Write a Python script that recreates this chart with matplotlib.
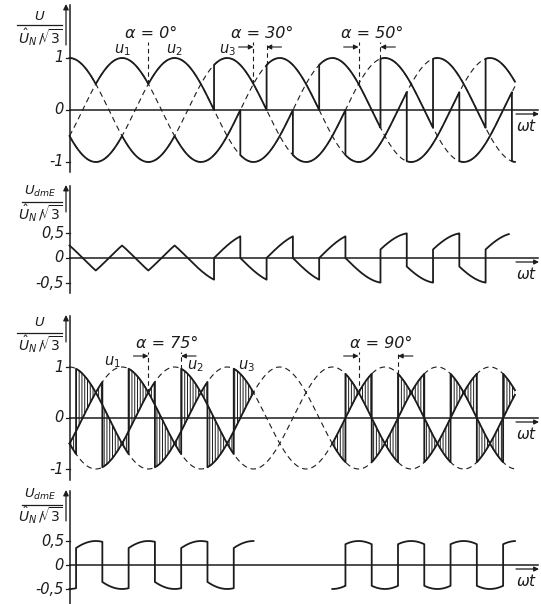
import numpy as np
import matplotlib
matplotlib.use("Agg")
import matplotlib.pyplot as plt

# supply phases: angle (deg) of the positive peak of u1, u2, u3
PHASE_NAMES = ["u_1", "u_2", "u_3"]
PHASE_PEAK = [120, 240, 0]

# upper pair of panels: natural commutation angles and delay angles alpha
P1_POS_COMM = [-60, 60, 180, 300, 420, 540, 660, 780, 900]
P1_POS_ALPHA = [0, 0, 0, 30, 30, 30, 50, 50, 50]
P1_NEG_COMM = [-120, 0, 120, 240, 360, 480, 600, 720, 840, 960]
P1_NEG_ALPHA = [0, 0, 0, 0, 30, 30, 30, 50, 50, 50]
P1_END = 1017
P2_END = 1003
P1_MARK_ALPHA = [0, 30, 50]
P1_MARK_COMM = [180, 420, 660]

# lower pair of panels
P3_POS_COMM = [-180, -60, 60, 180, 300, 420, 540, 660, 780, 900]
P3_POS_ALPHA = [75, 75, 75, 75, 75, 90, 90, 90, 90, 90]
P3_NEG_COMM = [-120, 0, 120, 240, 360, 480, 600, 720, 840, 960]
P3_NEG_ALPHA = [75, 75, 75, 75, 90, 90, 90, 90, 90, 90]
P3_ON = [(0, 420), (600, 1017)]
P3_END = 1017
P3_MARK_ALPHA = [75, 90]
P3_MARK_COMM = [180, 660]

W, H = 541, 604
X0, SX = 69.5, 0.438      # pixel of wt=0 and pixels per degree
K = "#1c1c1c"
LW = 1.3

plt.rcParams["hatch.color"] = K
plt.rcParams["hatch.linewidth"] = 0.7
plt.rcParams["mathtext.fontset"] = "dejavusans"

fig = plt.figure(figsize=(W / 100, H / 100), dpi=100)


def dx(px):
    return (px - X0) / SX


def make_ax(top, bot, y0, s):
    ax = fig.add_axes([0, 1 - bot / H, 1, (bot - top) / H])
    ax.set_xlim(dx(0), dx(W))
    ax.set_ylim((y0 - bot) / s, (y0 - top) / s)
    ax.axis("off")
    ax.dy = lambda py: (y0 - py) / s
    ax.y0 = y0
    return ax


def group(th, mid, comm, alpha, lower):
    fire = np.add(comm, alpha)
    k = np.searchsorted(fire, mid) - 1
    v = np.cos(np.radians(th - comm[k] - 60))
    return -v if lower else v


def traces(a0, a1, pc, pa, nc, na):
    fires = [f for f in list(np.add(pc, pa)) + list(np.add(nc, na)) if a0 < f < a1]
    edges = [a0] + sorted(set(fires)) + [a1]
    th, up, dn = [], [], []
    for a, b in zip(edges[:-1], edges[1:]):
        t = np.linspace(a, b, 40)
        m = (a + b) / 2
        th.append(t)
        up.append(group(t, m, pc, pa, False))
        dn.append(group(t, m, nc, na, True))
    return np.concatenate(th), np.concatenate(up), np.concatenate(dn)


def draw_frame(ax, ytop, ybot, arrow_bot, ticks, labels, num, num_y, bar_x, bar_y, den_y):
    dy = ax.dy
    ax.plot([0, 0], [dy(ybot), dy(ytop)], color=K, lw=1.1)
    ax.plot([0, dx(538)], [0, 0], color=K, lw=1.1)
    ax.annotate("", xy=(dx(66), dy(ytop - 1)), xytext=(dx(66), dy(arrow_bot)),
                arrowprops=dict(arrowstyle="-|>", color=K, lw=0.9, mutation_scale=8,
                                shrinkA=0, shrinkB=0))
    for t, lab in zip(ticks, labels):
        ax.plot([dx(66), 0], [t, t], color=K, lw=0.9)
        ax.text(dx(64), t, lab, ha="right", va="center", fontsize=10.5,
                style="italic", color=K)
    ax.text(dx(40), dy(num_y), num, ha="center", va="center", fontsize=9.5, color=K)
    ax.plot([dx(bar_x), dx(62)], [dy(bar_y)] * 2, color=K, lw=0.9)
    ax.text(dx(40), dy(den_y), r"$\hat{U}_N\,/\!\sqrt{3}$", ha="center", va="center",
            fontsize=10, color=K)
    y0 = ax.y0
    ax.annotate("", xy=(dx(539), dy(y0 + 4)), xytext=(dx(516), dy(y0 + 4)),
                arrowprops=dict(arrowstyle="-|>", color=K, lw=0.9, mutation_scale=7,
                                shrinkA=0, shrinkB=0))
    ax.text(dx(527), dy(y0 + 16), r"$\omega t$", ha="center", va="center",
            fontsize=11, color=K)


def draw_phases(ax, end):
    t = np.linspace(0, end, 800)
    for pk in PHASE_PEAK:
        ax.plot(t, np.cos(np.radians(t - pk)), color=K, lw=0.8, dashes=(5, 3.5), zorder=1)


def draw_marks(ax, alphas, comms, v_text, v_arrow, v_top):
    for a, c in zip(alphas, comms):
        ax.plot([c, c], [0.5, v_top], color=K, lw=0.8, dashes=(4, 3))
        if a > 0:
            f = c + a
            ax.plot([f, f], [np.cos(np.radians(60 - a)), v_top], color=K, lw=0.8, dashes=(4, 3))
            for x_from, x_to in [(c - 34, c), (f + 34, f)]:
                ax.annotate("", xy=(x_to, v_arrow), xytext=(x_from, v_arrow),
                            arrowprops=dict(arrowstyle="-|>", color=K, lw=0.8,
                                            mutation_scale=7, shrinkA=0, shrinkB=0))
        ax.text(c + a / 2 + 6, v_text, f"α = {a}°", ha="center", va="center",
                fontsize=11.5, style="italic", color=K)


# ---- panel 1: phase voltages with alpha = 0 / 30 / 50
ax1 = make_ax(0, 175, 110, 52)
draw_frame(ax1, 5, 172, 45, [1, 0, -1], ["1", "0", "-1"], r"$U$", 16, 17, 25, 37)
draw_phases(ax1, P1_END)
th, up, dn = traces(0, P1_END, P1_POS_COMM, P1_POS_ALPHA, P1_NEG_COMM, P1_NEG_ALPHA)
ax1.plot(th, up, color=K, lw=LW, zorder=3)
ax1.plot(th, dn, color=K, lw=LW, zorder=3)
for name, pk in zip(PHASE_NAMES, [120, 240, 360]):
    ax1.text(pk, ax1.dy(50), f"${name}$", ha="center", va="center", fontsize=10.5, color=K)
draw_marks(ax1, P1_MARK_ALPHA, P1_MARK_COMM, ax1.dy(33), ax1.dy(47), ax1.dy(42))

# ---- panel 2: mean voltage
ax2 = make_ax(175, 300, 258, 50)
draw_frame(ax2, 186, 293, 212, [0.5, 0, -0.5], ["0,5", "0", "-0,5"], r"$U_{dmE}$",
           191, 22, 202, 213)
th, up, dn = traces(0, P2_END, P1_POS_COMM, P1_POS_ALPHA, P1_NEG_COMM, P1_NEG_ALPHA)
ax2.plot(th, (up + dn) / 2, color=K, lw=LW)

# ---- panel 3: phase voltages with alpha = 75 / 90, hatched difference
ax3 = make_ax(300, 482, 418, 51)
draw_frame(ax3, 316, 480, 342, [1, 0, -1], ["1", "0", "-1"], r"$U$", 322, 17, 333, 344)
draw_phases(ax3, P3_END)
for a, b in P3_ON:
    th, up, dn = traces(a, b, P3_POS_COMM, P3_POS_ALPHA, P3_NEG_COMM, P3_NEG_ALPHA)
    ax3.fill_between(th, up, dn, facecolor="none", edgecolor=K, hatch="||||||", lw=0, zorder=2)
    ax3.plot(th, up, color=K, lw=LW, zorder=3)
    ax3.plot(th, dn, color=K, lw=LW, zorder=3)
for name, (tx, ty) in zip(PHASE_NAMES, [(97, 362), (287, 366), (405, 366)]):
    ax3.text(tx, ax3.dy(ty), f"${name}$", ha="center", va="center", fontsize=10.5, color=K)
draw_marks(ax3, P3_MARK_ALPHA, P3_MARK_COMM, ax3.dy(343), ax3.dy(356), ax3.dy(352))

# ---- panel 4: mean voltage
ax4 = make_ax(482, 604, 565, 48)
draw_frame(ax4, 491, 604, 521, [0.5, 0, -0.5], ["0,5", "0", "-0,5"], r"$U_{dmE}$",
           494, 22, 505, 515)
for a, b in P3_ON:
    th, up, dn = traces(a, b, P3_POS_COMM, P3_POS_ALPHA, P3_NEG_COMM, P3_NEG_ALPHA)
    ax4.plot(th, (up + dn) / 2, color=K, lw=LW)

fig.savefig("out.png", dpi=100, facecolor="white")
